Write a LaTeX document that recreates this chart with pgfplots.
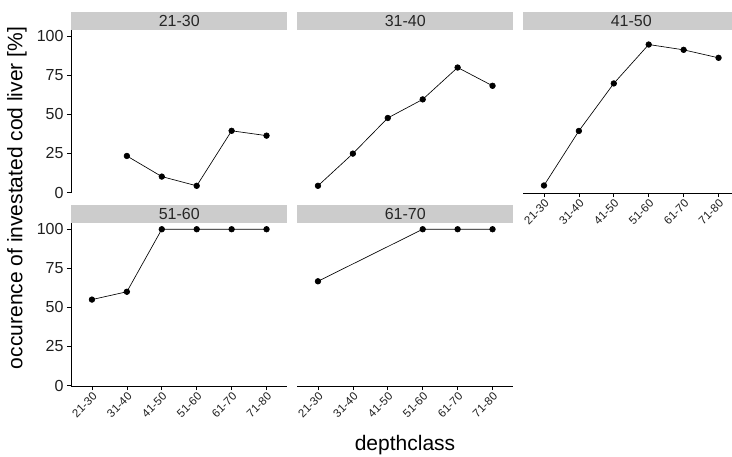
\documentclass[border=0pt]{standalone}
\usepackage{fontspec}
\setmainfont{Liberation Sans}
\usepackage{pgfplots}
\pgfplotsset{compat=1.18}
\usetikzlibrary{calc}
\definecolor{stripgrey}{HTML}{CCCCCC}
\definecolor{ticktext}{HTML}{1F1F1F}

\pgfplotsset{
  facet/.style={
    scale only axis, width=216.5pt, height=163pt,
    anchor=north west,
    xmin=0.4, xmax=6.6, ymin=-0.3, ymax=104,
    axis lines*=left,
    axis line style={black, line width=0.6pt},
    tick align=outside, major tick length=4pt,
    tick style={black, line width=0.6pt},
    xtick={1,...,6}, xticklabels={21-30,31-40,41-50,51-60,61-70,71-80},
    x tick label style={font=\fontsize{11.5}{12}\selectfont, text=ticktext, rotate=45, anchor=north east, inner sep=1pt},
    ytick={0,25,50,75,100},
    y tick label style={font=\fontsize{16}{18}\selectfont, text=ticktext},
    /pgf/number format/assume math mode=true,
    clip=false,
  },
  pts/.style={black, line width=0.65pt, mark=*, mark size=2.8pt},
}
\newcommand\strip[2]{%
  \fill[stripgrey] (#1.north west) rectangle ($(#1.north east)+(0,18pt)$);
  \node[font=\fontsize{16}{18}\selectfont, text=black!85] at ($(#1.north)+(0,9pt)$) {#2};}

\begin{document}
\begin{tikzpicture}
\useasboundingbox (0pt,0pt) rectangle (732pt,-457pt);

% row 1
\begin{axis}[facet, name=p1, at={(71pt,-30pt)}, hide x axis]
\addplot[pts] coordinates {(2,23.4)(3,10.2)(4,4.3)(5,39.5)(6,36.4)};
\end{axis}
\begin{axis}[facet, name=p2, at={(297pt,-30pt)}, hide x axis, hide y axis]
\addplot[pts] coordinates {(1,4.3)(2,24.9)(3,47.7)(4,59.6)(5,80)(6,68.3)};
\end{axis}
\begin{axis}[facet, name=p3, at={(523pt,-30pt)}, hide y axis]
\addplot[pts] coordinates {(1,4.5)(2,39.4)(3,69.8)(4,94.7)(5,91.3)(6,86.2)};
\end{axis}

% row 2
\begin{axis}[facet, name=p4, at={(71pt,-223pt)}]
\addplot[pts] coordinates {(1,55)(2,60)(3,100)(4,100)(5,100)(6,100)};
\end{axis}
\begin{axis}[facet, name=p5, at={(297pt,-223pt)}, hide y axis]
\addplot[pts] coordinates {(1,66.7)(4,100)(5,100)(6,100)};
\end{axis}

\strip{p1}{21-30}
\strip{p2}{31-40}
\strip{p3}{41-50}
\strip{p4}{51-60}
\strip{p5}{61-70}

\node[rotate=90, font=\fontsize{21}{24}\selectfont] at (17pt,-198pt) {occurence of investated cod liver [\%]};
\node[font=\fontsize{21}{24}\selectfont] at (405pt,-445pt) {depthclass};
\end{tikzpicture}
\end{document}
